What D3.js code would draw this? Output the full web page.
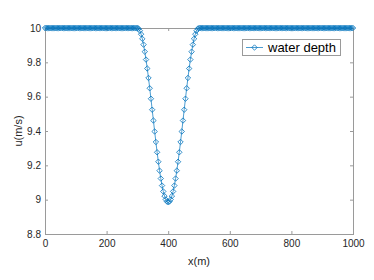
<!DOCTYPE html>
<html lang="en">
<head>
    <meta charset="UTF-8">
    <title>water depth</title>
    <script src="https://d3js.org/d3.v7.min.js"></script>
    <style>
        body {
            margin: 0;
            background-color: #ffffff;
            font-family: "Liberation Sans", Arial, sans-serif;
        }
        .tick text {
            fill: #262626;
            font-size: 10px;
        }
        .axis-title {
            fill: #262626;
            font-size: 11px;
        }
    </style>
</head>
<body>
    <div id="chart"></div>

    <script>
        // x positions (m), uniform grid of 4 m
        const xs = [
            0,4,8,12,16,20,24,28,32,36,40,44,48,52,56,60,64,68,72,76,80,84,88,92,96,
            100,104,108,112,116,120,124,128,132,136,140,144,148,152,156,160,164,168,172,176,180,184,188,192,196,
            200,204,208,212,216,220,224,228,232,236,240,244,248,252,256,260,264,268,272,276,280,284,288,292,296,
            300,304,308,312,316,320,324,328,332,336,340,344,348,352,356,360,364,368,372,376,380,384,388,392,396,
            400,404,408,412,416,420,424,428,432,436,440,444,448,452,456,460,464,468,472,476,480,484,488,492,496,
            500,504,508,512,516,520,524,528,532,536,540,544,548,552,556,560,564,568,572,576,580,584,588,592,596,
            600,604,608,612,616,620,624,628,632,636,640,644,648,652,656,660,664,668,672,676,680,684,688,692,696,
            700,704,708,712,716,720,724,728,732,736,740,744,748,752,756,760,764,768,772,776,780,784,788,792,796,
            800,804,808,812,816,820,824,828,832,836,840,844,848,852,856,860,864,868,872,876,880,884,888,892,896,
            900,904,908,912,916,920,924,928,932,936,940,944,948,952,956,960,964,968,972,976,980,984,988,992,996,
            1000
        ];

        // water depth values
        const depth = [
            10,10,10,10,10,10,10,10,10,10,10,10,10,10,10,10,10,10,10,10,10,10,10,10,10,
            10,10,10,10,10,10,10,10,10,10,10,10,10,10,10,10,10,10,10,10,10,10,10,10,10,
            10,10,10,10,10,10,10,10,10,10,10,10,10,10,10,10,10,10,10,10,10,10,10,10,10,
            10,9.996,9.984,9.964,9.937,9.903,9.862,9.816,9.764,9.709,9.649,9.588,9.524,9.461,9.397,9.336,9.276,9.221,9.169,9.123,9.082,9.048,9.021,9.001,8.989,
            8.985,8.989,9.001,9.021,9.048,9.082,9.123,9.169,9.221,9.276,9.336,9.397,9.461,9.524,9.588,9.649,9.709,9.764,9.816,9.862,9.903,9.937,9.964,9.984,9.996,
            10,10,10,10,10,10,10,10,10,10,10,10,10,10,10,10,10,10,10,10,10,10,10,10,10,
            10,10,10,10,10,10,10,10,10,10,10,10,10,10,10,10,10,10,10,10,10,10,10,10,10,
            10,10,10,10,10,10,10,10,10,10,10,10,10,10,10,10,10,10,10,10,10,10,10,10,10,
            10,10,10,10,10,10,10,10,10,10,10,10,10,10,10,10,10,10,10,10,10,10,10,10,10,
            10,10,10,10,10,10,10,10,10,10,10,10,10,10,10,10,10,10,10,10,10,10,10,10,10,
            10
        ];

        const xTicks = [0, 200, 400, 600, 800, 1000];
        const yTicks = [8.8, 9, 9.2, 9.4, 9.6, 9.8, 10];
        const seriesName = "water depth";

        const data = xs.map((x, i) => ({x: x, y: depth[i]}));

        const margin = {top: 28, right: 21, bottom: 46, left: 45};
        const width = 374 - margin.left - margin.right;
        const height = 280 - margin.top - margin.bottom;
        const blue = "#0072bd";
        const boxColor = "#9a9a9a";

        const svg = d3.select("#chart")
            .append("svg")
            .attr("width", 374)
            .attr("height", 280)
            .append("g")
            .attr("transform", `translate(${margin.left},${margin.top})`);

        const xScale = d3.scaleLinear().domain([0, 1000]).range([0, width]);
        const yScale = d3.scaleLinear().domain([8.8, 10]).range([height, 0]);

        // axes, ticks pointing inward like matlab
        const gx = svg.append("g")
            .attr("transform", `translate(0,${height})`)
            .call(d3.axisBottom(xScale).tickValues(xTicks).tickSizeInner(-3).tickSizeOuter(0).tickPadding(6).tickFormat(d => d));
        const gxTop = svg.append("g")
            .call(d3.axisTop(xScale).tickValues(xTicks).tickSizeInner(-3).tickSizeOuter(0).tickFormat(""));
        const gy = svg.append("g")
            .call(d3.axisLeft(yScale).tickValues(yTicks).tickSizeInner(-3).tickSizeOuter(0).tickPadding(4).tickFormat(d => d));
        const gyRight = svg.append("g")
            .attr("transform", `translate(${width},0)`)
            .call(d3.axisRight(yScale).tickValues(yTicks).tickSizeInner(-3).tickSizeOuter(0).tickFormat(""));

        [gx, gxTop, gy, gyRight].forEach(g => {
            g.select(".domain").remove();
            g.selectAll(".tick line").attr("stroke", boxColor);
            g.selectAll("text").style("font-family", "'Liberation Sans', Arial, sans-serif");
        });

        svg.append("rect")
            .attr("x", 0.5)
            .attr("y", 0.5)
            .attr("width", width)
            .attr("height", height)
            .attr("fill", "none")
            .attr("stroke", boxColor);

        // axis titles
        svg.append("text")
            .attr("class", "axis-title")
            .attr("x", width / 2)
            .attr("y", height + 31)
            .attr("text-anchor", "middle")
            .text("x(m)");

        svg.append("text")
            .attr("class", "axis-title")
            .attr("transform", `translate(${-23},${height / 2}) rotate(-90)`)
            .attr("text-anchor", "middle")
            .text("u(m/s)");

        // line + diamond markers
        const line = d3.line()
            .x(d => xScale(d.x))
            .y(d => yScale(d.y));

        svg.append("path")
            .datum(data)
            .attr("fill", "none")
            .attr("stroke", blue)
            .attr("stroke-width", 0.7)
            .attr("d", line);

        const diamond = "M0,-2.7L2.7,0L0,2.7L-2.7,0Z";

        svg.append("g")
            .selectAll("path")
            .data(data)
            .enter()
            .append("path")
            .attr("d", diamond)
            .attr("transform", d => `translate(${xScale(d.x)},${yScale(d.y)})`)
            .attr("fill", "none")
            .attr("stroke", blue)
            .attr("stroke-width", 0.8);

        // legend
        const legend = svg.append("g")
            .attr("transform", `translate(${197},${11})`);

        legend.append("rect")
            .attr("x", 0.5)
            .attr("y", 0.5)
            .attr("width", 98)
            .attr("height", 16)
            .attr("fill", "#ffffff")
            .attr("stroke", boxColor);

        legend.append("line")
            .attr("x1", 4)
            .attr("x2", 21)
            .attr("y1", 8.5)
            .attr("y2", 8.5)
            .attr("stroke", blue)
            .attr("stroke-width", 0.7);

        legend.append("path")
            .attr("d", diamond)
            .attr("transform", "translate(12.5,8.5)")
            .attr("fill", "none")
            .attr("stroke", blue)
            .attr("stroke-width", 0.8);

        legend.append("text")
            .attr("x", 26)
            .attr("y", 13)
            .style("font-size", "13px")
            .style("fill", "#000000")
            .text(seriesName);
    </script>
</body>
</html>
